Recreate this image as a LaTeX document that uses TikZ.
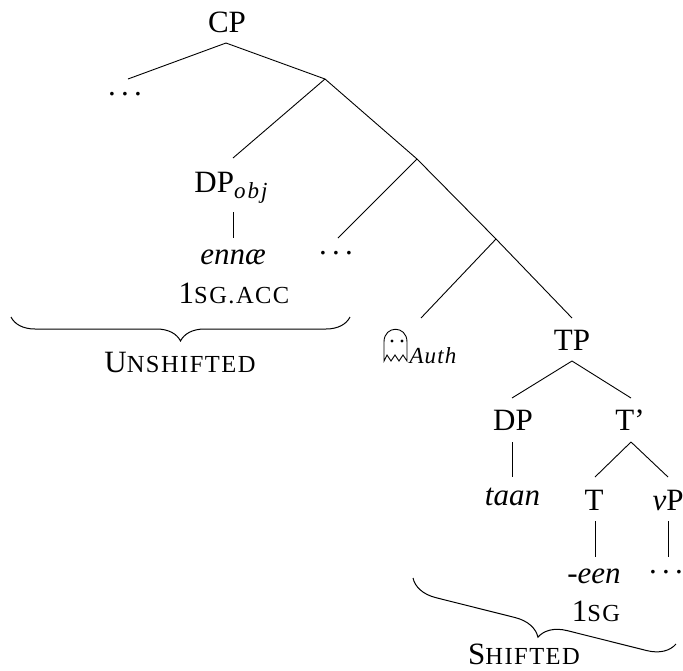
\documentclass[tikz,border=0pt]{standalone}
\usepackage{fontspec}
\setmainfont{Liberation Serif}
\usetikzlibrary{decorations.pathreplacing}
\newcommand{\lilcaps}[1]{{\fontsize{24.5}{26}\selectfont\addfontfeature{LetterSpace=6}#1}}
\newcommand{\lowtext}[1]{\raisebox{-6pt}{\fontsize{23}{26}\selectfont\itshape\addfontfeature{LetterSpace=9}#1}}
\newcommand{\lildots}{.\kern5.2pt.\kern5.2pt.}
\tikzset{
  treelabel/.style={inner sep=0pt, anchor=base, font=\fontsize{31}{34}\selectfont},
  treebrace/.style={decorate, decoration={brace, mirror, amplitude=#1}, line width=1pt},
  treeline/.style={line width=0.9pt}
}
\begin{document}
\begin{tikzpicture}[x=1pt,y=-1pt]
  \useasboundingbox (0,0) rectangle (683,670);
  \draw
    (227,32) node[treelabel] (cp){CP}
    (125,95) node[treelabel] (topdots){\lildots}
    (226,43) coordinate (cpjoin)
    (325,79) coordinate (cpbar)
    (231,192) node[treelabel] (dpobj){DP\lowtext{obj}}
    (233,264) node[treelabel] (enna){\textit{ennæ}}
    (234,303) node[treelabel] (acc){1\lilcaps{SG.ACC}}
    (417,159) coordinate (midbar)
    (336,254) node[treelabel] (middots){\lildots}
    (496,239) coordinate (lowbar)
    (433,363) node[treelabel, font=\fontsize{23}{26}\selectfont\itshape\addfontfeature{LetterSpace=5}] (auth){Auth}
    (572,350) node[treelabel] (tp){TP}
    (513,430) node[treelabel] (dp){DP}
    (630,430) node[treelabel] (tbar){T’}
    (512.5,505) node[treelabel] (taan){\textit{taan}}
    (594,510) node[treelabel] (t){T}
    (668,510) node[treelabel] (vp){\textit{v}P}
    (594,583) node[treelabel] (een){\textit{-een}}
    (596,621) node[treelabel] (sg){1\lilcaps{SG}}
    (666,573) node[treelabel] (lowdots){\lildots}
    (180,372) node[treelabel] (unshifted){U\lilcaps{NSHIFTED}}
    (524,664) node[treelabel] (shifted){S\lilcaps{HIFTED}}
    (11,317) coordinate (ubl)
    (350,317) coordinate (ubr)
    (413,578) coordinate (sbl)
    (676,644) coordinate (sbr);
  % ghost
  \draw[line width=0.9pt] (384,361) -- (384,342) .. controls (384,325) and (407,325) .. (407,342) -- (407,361)
    -- (403,355) -- (399,361) -- (395,355) -- (391,361) -- (387,355) -- cycle;
  \fill (392,341) circle (1.7) (402,341) circle (1.7);
  \begin{scope}[treeline]
    \draw (cpjoin) to (cpbar);
    \draw (cpjoin) to (128,79);
    \draw (cpbar) to (233,158);
    \draw (cpbar) to (midbar);
    \draw (233,212) to (233,238);
    \draw (midbar) to (338,238);
    \draw (midbar) to (lowbar);
    \draw (lowbar) to (421,318);
    \draw (lowbar) to (572,318);
    \draw (572,361) to (512,398);
    \draw (572,361) to (631,398);
    \draw (512,442) to (512,477);
    \draw (631,442) to (595,477);
    \draw (631,442) to (668,477);
    \draw (595,521) to (595,557);
    \draw (668,521) to (668,557);
  \end{scope}
  \draw[treebrace=24pt] (ubl) to (ubr);
  \draw[treebrace=27pt] (sbl) to (sbr);
\end{tikzpicture}
\end{document}
